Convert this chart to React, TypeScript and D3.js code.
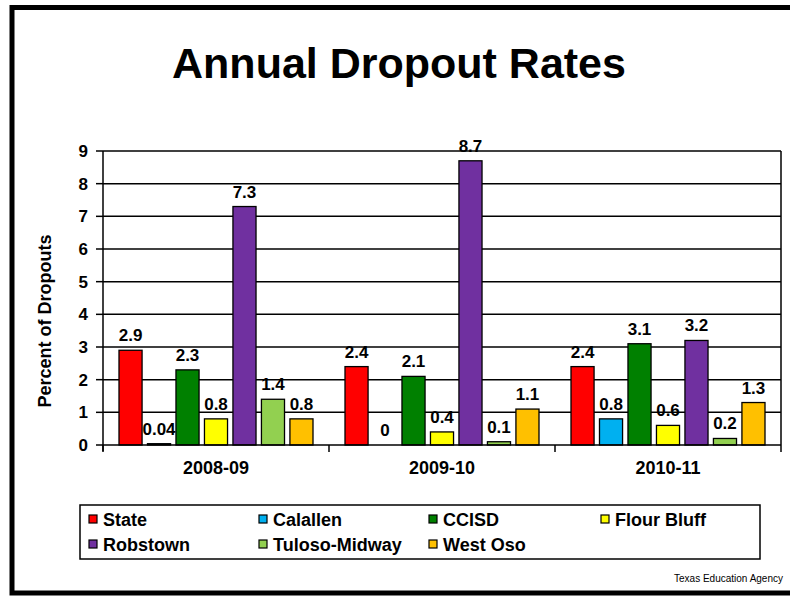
import React from "react";
import * as d3 from "d3";

const categories = ["2008-09", "2009-10", "2010-11"];
const seriesNames = ["State", "Calallen", "CCISD", "Flour Bluff", "Robstown", "Tuloso-Midway", "West Oso"];
const seriesColors = ["#FF0000", "#00B0F0", "#008000", "#FFFF00", "#7030A0", "#92D050", "#FFC000"];
const stateValues = [2.9, 2.4, 2.4];
const calallenValues = [0.04, 0, 0.8];
const ccisdValues = [2.3, 2.1, 3.1];
const flourBluffValues = [0.8, 0.4, 0.6];
const robstownValues = [7.3, 8.7, 3.2];
const tulosoValues = [1.4, 0.1, 0.2];
const westOsoValues = [0.8, 1.1, 1.3];
const valueLabels = [
  ["2.9", "2.4", "2.4"],
  ["0.04", "0", "0.8"],
  ["2.3", "2.1", "3.1"],
  ["0.8", "0.4", "0.6"],
  ["7.3", "8.7", "3.2"],
  ["1.4", "0.1", "0.2"],
  ["0.8", "1.1", "1.3"],
];
const yTicks = [0, 1, 2, 3, 4, 5, 6, 7, 8, 9];

const seriesValues = [stateValues, calallenValues, ccisdValues, flourBluffValues, robstownValues, tulosoValues, westOsoValues];

const FONT = "'Liberation Sans', Arial, sans-serif";

export default function App() {
  const W = 790, H = 596;
  const left = 103, right = 781, top = 151, bottom = 445;
  const x0 = d3.scaleBand<string>().domain(categories).range([left, right]);
  const x1 = d3.scaleBand<string>().domain(seriesNames).range([16, 210]).paddingInner(0.19);
  const y = d3.scaleLinear().domain([0, 9]).range([bottom, top]);

  const legendCols = [89, 259, 429, 601];
  const legendRows = [519, 544];

  return (
    <svg width={W} height={H} style={{ position: "absolute", left: 0, top: 0, background: "#fff" }} fontFamily={FONT}>
      <rect x={0} y={0} width={W} height={H} fill="#fff" />
      <rect x={12} y={7.5} width={800} height={585.5} fill="none" stroke="#000" strokeWidth={5} />
      <text x={399} y={78} textAnchor="middle" fontSize={43} fontWeight="bold" fill="#000">Annual Dropout Rates</text>

      {/* gridlines */}
      {yTicks.map((t) => (
        <g key={t}>
          {t > 0 && <line x1={left} x2={right} y1={y(t)} y2={y(t)} stroke="#000" strokeWidth={1.5} />}
          <line x1={96} x2={left} y1={y(t)} y2={y(t)} stroke="#000" strokeWidth={1.5} />
          <text x={88} y={y(t) + 6} textAnchor="end" fontSize={17} fontWeight="bold">{t}</text>
        </g>
      ))}
      <line x1={right} x2={right} y1={top} y2={bottom} stroke="#000" strokeWidth={1.5} />

      {/* bars */}
      {categories.map((c, ci) => (
        <g key={c} transform={`translate(${x0(c)},0)`}>
          {seriesNames.map((s, si) => {
            const v = seriesValues[si][ci];
            const bx = x1(s)!;
            const by = y(v);
            return (
              <g key={s}>
                {v > 0 && (
                  <rect x={bx} y={by} width={x1.bandwidth()} height={bottom - by} fill={seriesColors[si]} stroke="#000" strokeWidth={1.3} />
                )}
                <text x={bx + x1.bandwidth() / 2} y={by - 9} textAnchor="middle" fontSize={17} fontWeight="bold">{valueLabels[si][ci]}</text>
              </g>
            );
          })}
        </g>
      ))}

      {/* axes */}
      <line x1={left} x2={left} y1={top} y2={bottom + 6} stroke="#000" strokeWidth={1.5} />
      <line x1={left} x2={right} y1={bottom} y2={bottom} stroke="#000" strokeWidth={1.5} />
      {[left, ...categories.map((c) => x0(c)! + x0.bandwidth())].map((xv, i) => (
        <line key={i} x1={xv} x2={xv} y1={bottom} y2={bottom + 7} stroke="#000" strokeWidth={1.5} />
      ))}
      {categories.map((c) => (
        <text key={c} x={x0(c)! + x0.bandwidth() / 2} y={474} textAnchor="middle" fontSize={18} fontWeight="bold">{c}</text>
      ))}

      <text transform={`translate(51,321) rotate(-90)`} textAnchor="middle" fontSize={18} fontWeight="bold">Percent of Dropouts</text>

      {/* legend */}
      <rect x={80} y={505} width={680} height={54} fill="#fff" stroke="#000" strokeWidth={1.5} />
      {seriesNames.map((s, i) => {
        const col = legendCols[i % 4];
        const row = legendRows[Math.floor(i / 4)];
        return (
          <g key={s}>
            <rect x={col} y={row - 4} width={8} height={8} fill={seriesColors[i]} stroke="#000" strokeWidth={1.2} />
            <text x={col + 14} y={row + 6.5} fontSize={18} fontWeight="bold">{s}</text>
          </g>
        );
      })}

      <text x={783} y={582} textAnchor="end" fontSize={10} fill="#000">Texas Education Agency</text>
    </svg>
  );
}
